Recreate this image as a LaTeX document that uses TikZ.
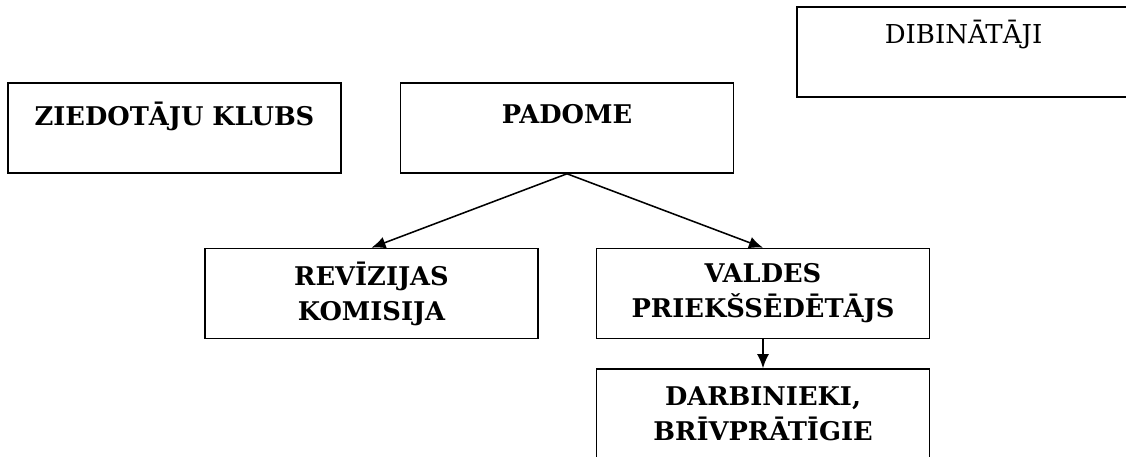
\documentclass[tikz,border=0pt]{standalone}
\usepackage{fontspec}
\setmainfont{DejaVu Serif}
\usepackage{tikz}
\usetikzlibrary{arrows.meta}
\tikzset{
	orgbox/.style={draw, line width=1.1pt, minimum width=8.325cm, minimum height=2.25cm, align=center, inner sep=0pt, font=\fontsize{18.3}{25}\selectfont\bfseries},
	plainbox/.style={orgbox, font=\fontsize{18.5}{25}\selectfont},
	>={Latex[length=10pt,width=8.5pt]}
}

\begin{document}
\begin{tikzpicture}[x=0.025cm, y=0.025cm]
			\useasboundingbox (0,0) rectangle (1126,456);
			\node[orgbox] (klubs) at (174.5,328) {ZIEDOTĀJU KLUBS\\[-12pt] \strut};
			\node[orgbox] (padome) at (567,328) {PADOME\\[-12pt] \strut};
			\node[plainbox] (dibin) at (963.5,404) {DIBINĀTĀJI\\[-4pt] \strut};
			\node[orgbox] (reviz) at (371.5,162.5) {REVĪZIJAS\\ KOMISIJA};
			\node[orgbox] (valde) at (763,162.5) {VALDES\\ PRIEKŠSĒDĒTĀJS};
			\node[orgbox] (darb) at (763,42) {DARBINIEKI,\\ BRĪVPRĀTĪGIE};
			\path[->, line width=1.1pt]
			(padome.south) edge (reviz.north)
					edge (valde.north)
			(valde.south) edge (darb.north);
		\end{tikzpicture}
\end{document}
